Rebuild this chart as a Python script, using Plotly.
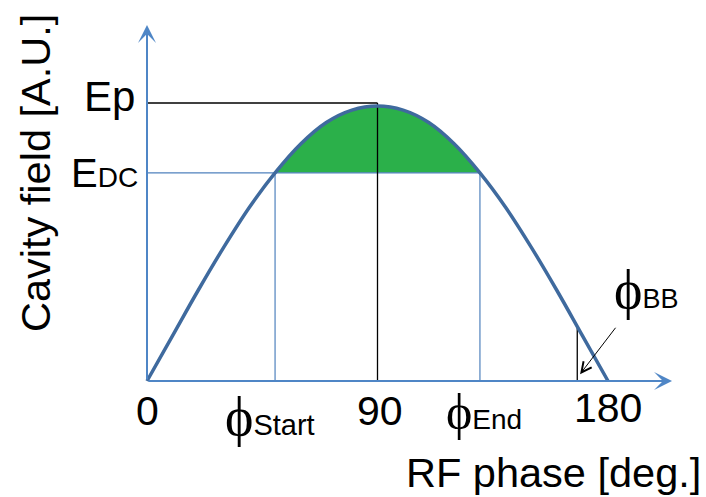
import plotly.graph_objects as go

# ---- data ----
phase_deg = [0, 10, 20, 30, 40, 50, 60, 70, 80, 90,
             100, 110, 120, 130, 140, 150, 160, 170, 180]
cavity_field = [0.0, 0.165, 0.33, 0.487, 0.632, 0.757, 0.862, 0.94, 0.985, 1.0,
                0.985, 0.94, 0.862, 0.757, 0.632, 0.487, 0.33, 0.165, 0.0]
phi_start = 50
phi_end = 130
phi_peak = 90
phi_bb = 168
field_bb = 0.205
E_DC = 0.757
E_p = 1.011
tick_vals = [0, 90, 180]
tick_text = ["0", "90", "180"]
x_axis_end = 205
y_axis_end = 1.295

W, H = 706, 497
SANS = "Liberation Sans, Arial, sans-serif"
SERIF = "Liberation Serif, DejaVu Serif, serif"
AXIS_BLUE = "#4F86C6"
LINE_BLUE = "#4F81BD"
CURVE_BLUE = "#3F6A9E"
GREEN = "#2BB04A"


def py(p):
    return 1 - p / H


def px(p):
    return p / W


fig = go.Figure()

# green area between the curve and E_DC
fx = [d for d in phase_deg if phi_start <= d <= phi_end]
fy = [v for d, v in zip(phase_deg, cavity_field) if phi_start <= d <= phi_end]
fig.add_trace(go.Scatter(x=fx, y=fy, fill="toself", fillcolor=GREEN,
                         mode="lines", line=dict(width=0, shape="spline"),
                         hoverinfo="skip", showlegend=False))

# thin blue guide lines
fig.add_trace(go.Scatter(
    x=[0, phi_end, None, phi_start, phi_start, None, phi_end, phi_end],
    y=[E_DC, E_DC, None, 0, E_DC, None, 0, E_DC],
    mode="lines", line=dict(color=LINE_BLUE, width=1.2),
    hoverinfo="skip", showlegend=False))

# thin black guide lines
fig.add_trace(go.Scatter(
    x=[0, phi_peak, None, phi_peak, phi_peak, None, phi_bb, phi_bb],
    y=[E_p, E_p, None, 0, E_p, None, 0, field_bb],
    mode="lines", line=dict(color="black", width=1.3),
    hoverinfo="skip", showlegend=False))

# main curve
fig.add_trace(go.Scatter(x=phase_deg, y=cavity_field, mode="lines",
                         line=dict(color=CURVE_BLUE, width=3.5, shape="spline"),
                         hoverinfo="skip", showlegend=False))

ann = []
# axis arrows
ann.append(dict(x=x_axis_end, y=0, ax=0, ay=0, xref="x", yref="y", axref="x", ayref="y",
                showarrow=True, arrowhead=3, arrowsize=1.5, arrowwidth=2,
                arrowcolor=AXIS_BLUE, text=""))
ann.append(dict(x=0, y=y_axis_end, ax=0, ay=0, xref="x", yref="y", axref="x", ayref="y",
                showarrow=True, arrowhead=3, arrowsize=1.5, arrowwidth=2,
                arrowcolor=AXIS_BLUE, text=""))
# phi_BB pointer arrow
ann.append(dict(x=phi_bb + 1.1, y=0.025, ax=183.4, ay=0.199, xref="x", yref="y",
                axref="x", ayref="y", showarrow=True, arrowhead=5, arrowsize=2,
                arrowwidth=1, arrowcolor="black", text=""))

# tick labels
tick_y = [411, 411, 408]
for v, t, yp in zip(tick_vals, tick_text, tick_y):
    ann.append(dict(x=v, y=py(yp), xref="x", yref="paper", text=t, showarrow=False,
                    xanchor="center", yanchor="middle", xshift=(2 if v == 90 else 0),
                    font=dict(family=SANS, size=41, color="black")))


def phi_label(sub, size_phi=54, size_sub=29):
    return (f'<span style="font-family:{SERIF};font-size:{size_phi}px">ϕ</span>'
            f'<span style="font-size:{size_sub}px">{sub}</span>')


ann.append(dict(x=phi_start, y=py(417), xref="x", yref="paper", text=phi_label("Start"),
                showarrow=False, xanchor="center", yanchor="middle", xshift=-5,
                font=dict(family=SANS, size=29, color="black")))
ann.append(dict(x=phi_end, y=py(412), xref="x", yref="paper", text=phi_label("End", 50, 28),
                showarrow=False, xanchor="center", yanchor="middle", xshift=4,
                font=dict(family=SANS, size=28, color="black")))
ann.append(dict(x=px(646), y=py(290), xref="paper", yref="paper", text=phi_label("BB", 54, 27),
                showarrow=False, xanchor="center", yanchor="middle",
                font=dict(family=SANS, size=27, color="black")))

# y level labels
ann.append(dict(x=px(137), y=E_p, xref="paper", yref="y", text="Ep", showarrow=False,
                xanchor="right", yanchor="middle", yshift=6,
                font=dict(family=SANS, size=42, color="black")))
ann.append(dict(x=px(140), y=E_DC, xref="paper", yref="y",
                text='E<span style="font-size:28px">DC</span>', showarrow=False,
                xanchor="right", yanchor="middle",
                font=dict(family=SANS, size=40, color="black")))

# axis titles
ann.append(dict(x=px(553), y=py(472), xref="paper", yref="paper", text="RF phase [deg.]",
                showarrow=False, xanchor="center", yanchor="middle",
                font=dict(family=SANS, size=41.5, color="black")))
ann.append(dict(x=px(36), y=py(173), xref="paper", yref="paper", text="Cavity field [A.U.]",
                showarrow=False, xanchor="center", yanchor="middle", textangle=-90,
                font=dict(family=SANS, size=41.5, color="black")))

x0 = -147 / 2.5611
x1 = (W - 147) / 2.5611
y0 = -(H - 381) / 275
y1 = 381 / 275

fig.update_layout(
    width=W, height=H, margin=dict(l=0, r=0, t=0, b=0),
    paper_bgcolor="white", plot_bgcolor="white",
    xaxis=dict(range=[x0, x1], visible=False, fixedrange=True),
    yaxis=dict(range=[y0, y1], visible=False, fixedrange=True),
    annotations=ann, showlegend=False,
)

fig.write_html("out.html")
